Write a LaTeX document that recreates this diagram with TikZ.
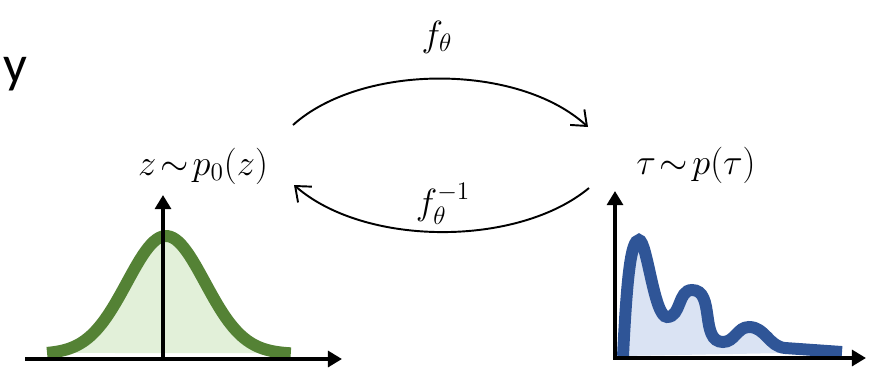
\documentclass[tikz,border=0pt]{standalone}
\usepackage{fontspec}
\usepackage{amsmath}
\usetikzlibrary{arrows.meta, positioning, calc}
\newfontfamily\carlito{Carlito}
\definecolor{GaussGreen}{HTML}{548235}
\definecolor{GaussFill}{HTML}{E2F0D9}
\definecolor{TrajBlue}{HTML}{2F5597}
\definecolor{TrajFill}{HTML}{DAE3F3}

\begin{document}
\begin{tikzpicture}[x=0.02cm, y=-0.02cm,
    axis/.style={-{Triangle[length=8pt, width=9pt]}, line width=2.3pt},
    arr/.style={-{Straight Barb[length=2.6mm, width=4.2mm]}, line width=1.1pt},
    lbl/.style={font=\fontsize{22}{26}\selectfont, anchor=base, inner sep=0pt},
    dens/.style={line width=6.8pt}
]
\useasboundingbox (0,0) rectangle (872,369);

% labels
\node[font=\fontsize{30}{36}\selectfont\carlito, anchor=base west, inner sep=0pt]
    (ylbl) at (3,82) {y};
\node[lbl] (zlbl) at (203,175) {$z\mskip2mu{\sim}\mskip2mu p_0(z)$};
\node[lbl] (taulbl) at (696,174) {$\tau\mskip2mu{\sim}\mskip2mu p(\tau)$};
\node[lbl] (fwd) at (437,46) {$f_\theta$};
\node[lbl] (inv) at (443,214) {$f_\theta^{-1}$};

% arc ends
\coordinate (fstart) at (293,125);
\coordinate (fend) at (588,127);
\coordinate (istart) at (589,188);
\coordinate (iend) at (294,185);

\draw[arr] (fstart) .. controls (362,63) and (518,63) .. (fend);
\draw[arr] (istart) .. controls (518,247) and (365,247) .. (iend);

% gaussian density
\filldraw[dens, draw=GaussGreen, fill=GaussFill]
    plot[domain=-3.05:3.2, samples=90] ({166+39*\x}, {354-118*exp(-\x*\x/2)});

% multimodal density
\filldraw[dens, draw=TrajBlue, fill=TrajFill]
    (623,356) .. controls (627,275) and (631,240) .. (639,240)
    .. controls (647,240) and (654,317) .. (667,317)
    to[out=0, in=180] (692,290) to[out=0, in=180] (723,342)
    to[out=0, in=180] (749,327) to[out=0, in=175] (785,348) -- (842,352);

% axes
\coordinate (gx0) at (25,359);
\coordinate (gx1) at (342,359);
\coordinate (gy0) at (163,359);
\coordinate (gy1) at (163,195);
\coordinate (tx0) at (613,358);
\coordinate (tx1) at (866,358);
\coordinate (ty0) at (615,358);
\coordinate (ty1) at (615,191);
\draw[axis] (gx0) -- (gx1);
\draw[axis] (gy0) -- (gy1);
\draw[axis] (tx0) -- (tx1);
\draw[axis] (ty0) -- (ty1);

\end{tikzpicture}
\end{document}
